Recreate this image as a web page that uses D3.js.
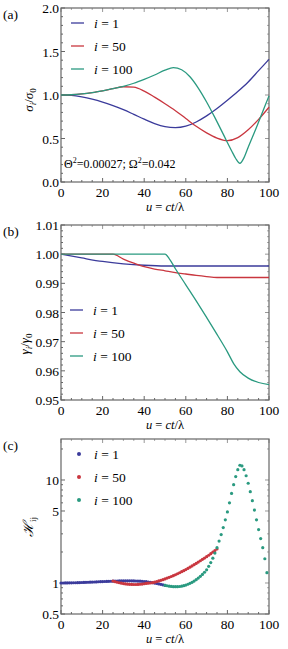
<!DOCTYPE html>
<html>
<head>
<meta charset="utf-8">
<script src="https://cdn.jsdelivr.net/npm/d3@7"></script>
<style>
  body { margin: 0; background: #fff; }
</style>
</head>
<body>
<script>
// series names and colours
const names = ["1", "50", "100"];
const colors = ["#3b3b9b", "#c9363f", "#2a9a80"];

// (a) sigma_i / sigma_0
const aU = [0, 5, 10, 15, 20, 25, 30, 35, 40, 45, 50, 55, 60, 65, 70, 75, 80, 85, 90, 95, 100];
const aBlue = [1.0, 0.995, 0.978, 0.952, 0.918, 0.877, 0.831, 0.777, 0.722, 0.672, 0.636, 0.624, 0.641, 0.69, 0.76, 0.845, 0.94, 1.04, 1.15, 1.28, 1.41];
const aRed = [1.0, 1.003, 1.012, 1.027, 1.048, 1.072, 1.095, 1.09, 1.045, 0.975, 0.9, 0.82, 0.73, 0.64, 0.565, 0.505, 0.475, 0.51, 0.6, 0.72, 0.86];
const aGreenU = [0, 5, 10, 15, 20, 25, 30, 35, 40, 45, 50, 54, 58, 62, 66, 70, 74, 78, 82, 84, 86, 88, 90, 94, 97, 100];
const aGreen = [1.0, 1.003, 1.012, 1.027, 1.048, 1.072, 1.10, 1.135, 1.18, 1.23, 1.285, 1.315, 1.29, 1.21, 1.08, 0.92, 0.74, 0.55, 0.36, 0.27, 0.215, 0.28, 0.40, 0.63, 0.81, 0.99];

// (b) gamma_i / gamma_0
const bBlueU = [0, 10, 20, 30, 40, 50, 100];
const bBlue = [1.0, 0.9987, 0.9975, 0.9967, 0.9962, 0.99595, 0.99595];
const bRedU = [0, 25, 30, 35, 40, 45, 50, 55, 60, 65, 70, 75, 100];
const bRed = [1.0, 1.0, 0.9983, 0.9969, 0.9957, 0.9949, 0.9943, 0.9937, 0.9932, 0.9927, 0.9923, 0.9920, 0.9920];
const bGreenU = [0, 50, 52, 55, 60, 65, 70, 75, 80, 83, 86, 90, 95, 100];
const bGreen = [1.0, 1.0, 0.9985, 0.995, 0.9895, 0.984, 0.9783, 0.9725, 0.9665, 0.9625, 0.9597, 0.9575, 0.956, 0.9553];

// (c) H_ij, one point per unit of u
const cBlueStart = 0, cRedStart = 25, cGreenStart = 50;
const cBlue = [1.000, 1.000, 1.001, 1.002, 1.003, 1.004, 1.005, 1.006, 1.008, 1.009,
  1.011, 1.013, 1.015, 1.017, 1.019, 1.021, 1.023, 1.025, 1.028, 1.030,
  1.032, 1.034, 1.036, 1.038, 1.040, 1.042, 1.044, 1.046, 1.047, 1.048,
  1.049, 1.050, 1.050, 1.050, 1.049, 1.048, 1.046, 1.044, 1.041, 1.038,
  1.034, 1.029, 1.023, 1.016, 1.008, 0.999, 0.990, 0.980, 0.970, 0.960, 0.950];
const cRed = [1.045, 1.030, 1.017, 1.005, 0.995, 0.987, 0.980, 0.975, 0.971, 0.968,
  0.967, 0.967, 0.969, 0.972, 0.977, 0.983, 0.990, 0.997, 1.000, 1.008,
  1.018, 1.032, 1.047, 1.062, 1.078, 1.096, 1.115, 1.135, 1.156, 1.178,
  1.202, 1.230, 1.258, 1.287, 1.317, 1.349, 1.386, 1.424, 1.464, 1.505,
  1.549, 1.596, 1.645, 1.696, 1.747, 1.799, 1.860, 1.925, 1.993, 2.064, 2.138];
const cGreen = [0.950, 0.940, 0.932, 0.926, 0.922, 0.920, 0.921, 0.925, 0.932, 0.942,
  0.955, 0.972, 0.992, 1.016, 1.044, 1.077, 1.115, 1.160, 1.212, 1.272,
  1.342, 1.45, 1.58, 1.74, 1.95, 2.2, 2.55, 2.95, 3.45, 4.1,
  4.9, 6.0, 7.4, 9.0, 10.8, 12.6, 13.9, 13.7, 12.6, 11.0,
  9.3, 7.7, 6.3, 5.1, 4.1, 3.3, 2.7, 2.2, 1.72, 1.26];

const xTicks = [0, 20, 40, 60, 80, 100];
const aYTicks = [0, 0.5, 1.0, 1.5, 2.0];
const bYTicks = [0.95, 0.96, 0.97, 0.98, 0.99, 1.00, 1.01];
const cYTicks = [0.5, 1, 5, 10];
const cYMinor = [0.6, 0.7, 0.8, 0.9, 2, 3, 4, 6, 7, 8, 9, 20];

const W = 288, H = 649;
const left = 61, right = 269;
const svg = d3.select("body").append("svg").attr("width", W).attr("height", H)
  .attr("font-family", "'Liberation Serif', 'Times New Roman', serif");

const x = d3.scaleLinear().domain([0, 100]).range([left, right]);

function frame(y, top, bottom, yMajor, yMinor, yFmt, label) {
  const g = svg.append("g");
  const frameCol = "#666";
  const xMinor = d3.range(0, 101, 5).filter(d => d % 20 !== 0);

  // ticks inside the frame, lighter on top/right
  [[bottom, -1], [top, 1]].forEach(([yy, dir], k) => {
    xTicks.forEach(t => g.append("line").attr("x1", x(t)).attr("x2", x(t))
      .attr("y1", yy).attr("y2", yy + dir * 4).attr("stroke", k ? "#999" : frameCol));
    xMinor.forEach(t => g.append("line").attr("x1", x(t)).attr("x2", x(t))
      .attr("y1", yy).attr("y2", yy + dir * 2).attr("stroke", k ? "#aaa" : frameCol));
  });
  [[left, 1], [right, -1]].forEach(([xx, dir], k) => {
    yMajor.forEach(t => g.append("line").attr("y1", y(t)).attr("y2", y(t))
      .attr("x1", xx).attr("x2", xx + dir * 4).attr("stroke", k ? "#999" : frameCol));
    yMinor.forEach(t => g.append("line").attr("y1", y(t)).attr("y2", y(t))
      .attr("x1", xx).attr("x2", xx + dir * 2).attr("stroke", k ? "#aaa" : frameCol));
  });

  g.append("rect").attr("x", left).attr("y", top)
    .attr("width", right - left).attr("height", bottom - top)
    .attr("fill", "none").attr("stroke", frameCol).attr("stroke-width", 1.2);

  xTicks.forEach(t => g.append("text").attr("x", x(t)).attr("y", bottom + 15)
    .attr("text-anchor", "middle").attr("font-size", 13.5).text(t));
  yMajor.forEach(t => g.append("text").attr("x", left - 2).attr("y", y(t) + 5)
    .attr("text-anchor", "end").attr("font-size", 13.5).text(yFmt(t)));

  // x axis title
  const xt = g.append("text").attr("x", 165).attr("y", bottom + 29)
    .attr("text-anchor", "middle").attr("font-size", 12.5);
  xt.append("tspan").attr("font-style", "italic").text("u");
  xt.append("tspan").text(" = ");
  xt.append("tspan").attr("font-style", "italic").text("ct");
  xt.append("tspan").text("/λ");

  svg.append("text").attr("x", 3).attr("y", top + 11).attr("font-size", 13.5).text(label);
}

function legend(ix, iy, kind) {
  names.forEach((n, i) => {
    const yy = iy + i * 23;
    if (kind === "line") {
      svg.append("line").attr("x1", ix).attr("x2", ix + 13).attr("y1", yy).attr("y2", yy)
        .attr("stroke", colors[i]).attr("stroke-width", 1.3);
    } else {
      svg.append("circle").attr("cx", ix + 8).attr("cy", yy).attr("r", 2)
        .attr("fill", colors[i]);
    }
    const t = svg.append("text").attr("x", ix + 23).attr("y", yy + 5).attr("font-size", 13.5);
    t.append("tspan").attr("font-style", "italic").text("i");
    t.append("tspan").text(" = " + n);
  });
}

function ratioLabel(cx, cy, sym) {
  const t = svg.append("text").attr("transform", `translate(${cx},${cy}) rotate(-90)`)
    .attr("text-anchor", "middle").attr("font-size", 13);
  t.append("tspan").attr("font-style", "italic").text(sym);
  t.append("tspan").attr("font-style", "italic").attr("font-size", 9).attr("dy", 3).text("i");
  t.append("tspan").attr("dy", -3).text("/");
  t.append("tspan").attr("font-style", "italic").text(sym);
  t.append("tspan").attr("font-size", 9).attr("dy", 3).text("0");
}

// ---------- panel (a)
const aTop = 8, aBot = 182;
const yA = d3.scaleLinear().domain([0, 2]).range([aBot, aTop]);
frame(yA, aTop, aBot, aYTicks, d3.range(0.1, 2, 0.1).filter(d => Math.abs(d * 2 - Math.round(d * 2)) > 1e-6), d3.format(".1f"), "(a)");
const lineA = d3.line().x(d => x(d[0])).y(d => yA(d[1])).curve(d3.curveMonotoneX);
[[aU, aBlue], [aU, aRed], [aGreenU, aGreen]].forEach(([u, v], i) => {
  svg.append("path").attr("d", lineA(d3.zip(u, v)))
    .attr("fill", "none").attr("stroke", colors[i]).attr("stroke-width", 1.3);
});
legend(71, 23, "line");
ratioLabel(33, 100, "σ");
const ann = svg.append("text").attr("x", 64).attr("y", 168).attr("font-size", 12);
ann.append("tspan").text("Θ");
ann.append("tspan").attr("font-size", 8).attr("dy", -5).text("2");
ann.append("tspan").attr("dy", 5).text("=0.00027; Ω");
ann.append("tspan").attr("font-size", 8).attr("dy", -5).text("2");
ann.append("tspan").attr("dy", 5).text("=0.042");

// ---------- panel (b)
const bTop = 225, bBot = 400;
const yB = d3.scaleLinear().domain([0.95, 1.01]).range([bBot, bTop]);
frame(yB, bTop, bBot, bYTicks, d3.range(0, 31).map(k => 0.95 + k * 0.002).filter((d, k) => k % 5 !== 0), d3.format(".2f"), "(b)");
const lineB = d3.line().x(d => x(d[0])).y(d => yB(d[1])).curve(d3.curveMonotoneX);
[[bBlueU, bBlue], [bRedU, bRed], [bGreenU, bGreen]].forEach(([u, v], i) => {
  svg.append("path").attr("d", lineB(d3.zip(u, v)))
    .attr("fill", "none").attr("stroke", colors[i]).attr("stroke-width", 1.3);
});
legend(70, 310, "line");
ratioLabel(29, 344, "γ");

// ---------- panel (c)
const cTop = 439, cBot = 614;
const yC = d3.scaleLog().domain([0.5, 25]).range([cBot, cTop]);
frame(yC, cTop, cBot, cYTicks, cYMinor, d => String(d), "(c)");
[[cBlueStart, cBlue], [cRedStart, cRed], [cGreenStart, cGreen]].forEach(([s, v], i) => {
  svg.append("g").selectAll("circle").data(v).join("circle")
    .attr("cx", (d, k) => x(s + k)).attr("cy", d => yC(d)).attr("r", 1.6)
    .attr("fill", colors[i]);
});
legend(71, 454, "dot");
const hl = svg.append("text").attr("transform", "translate(33,527) rotate(-90)")
  .attr("text-anchor", "middle").attr("font-size", 14);
hl.append("tspan").attr("font-style", "italic").text("ℋ");
hl.append("tspan").attr("font-size", 9).attr("dy", 3).text("ij");
</script>
</body>
</html>
